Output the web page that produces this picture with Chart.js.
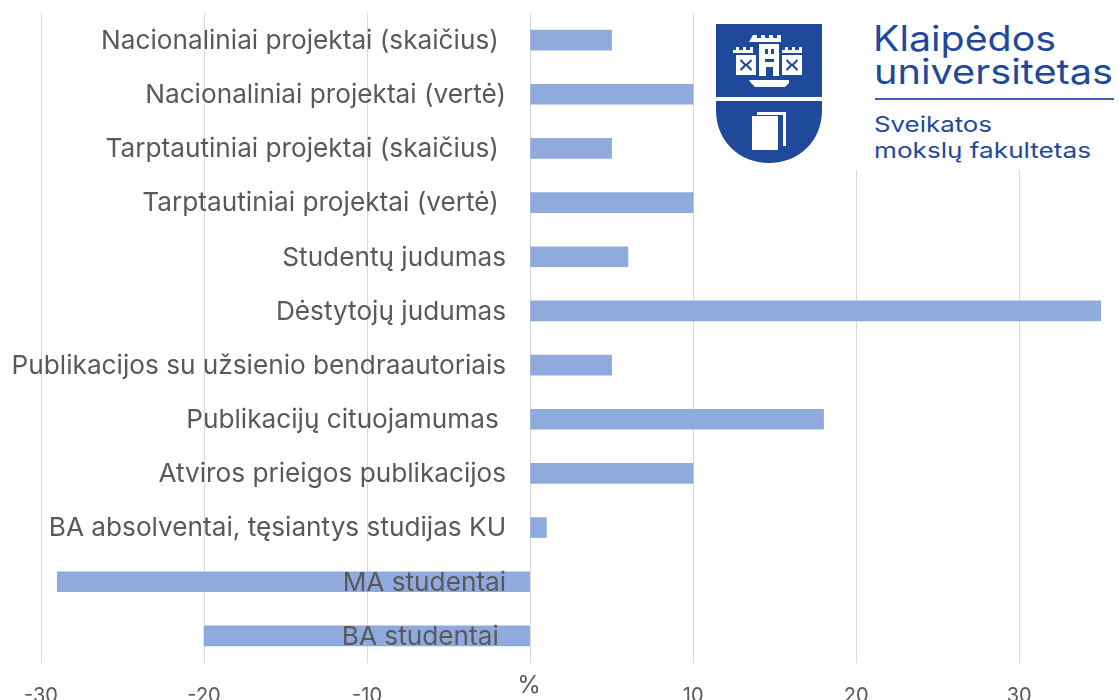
<!DOCTYPE html>
<html><head><meta charset="utf-8">
<script src="https://cdn.jsdelivr.net/npm/chart.js@4"></script>
<style>
html,body{margin:0;padding:0;background:#fff;overflow:hidden}
#wrap{position:relative;width:1119px;height:700px}
#logo{position:absolute;left:700px;top:0;width:419px;height:170px;background:#fff}
</style></head><body>
<div id="wrap">
<canvas id="c" width="1119" height="700"></canvas>
<svg id="logo" viewBox="700 0 419 170" xmlns="http://www.w3.org/2000/svg">
  <path d="M716 24H822V97H716Z" fill="#1f4a9c"/>
  <path d="M716 101H822V110C822 142 798 163 769 163C740 163 716 142 716 110Z" fill="#1f4a9c"/>
  <g fill="#fff">
    <path d="M753 35h4v3h4v-3h4v3h4v-3h4v3h4v-3h4v7h-32z"/>
    <path d="M759 44h20v32h-20z"/>
    <path d="M736 47h3v3h4v-3h3v3h4v-3h3v6h-20v-3h3z"/>
    <path d="M785 47h3v3h4v-3h3v3h4v-3h3v6h-20v-3h3z"/>
    <path d="M736 55h20v20h-20z"/>
    <path d="M782 55h20v20h-20z"/>
    <path d="M749 80h40v3l-4 4h-30l-4-4z"/>
    <path d="M752 116h26v34h-26z"/>
    <path d="M757 112h29v34h-3v-31h-26z"/>
  </g>
  <g fill="#1f4a9c">
    <path d="M765 49h3v5h-3zM771 49h3v5h-3zM765 59h9v3h-9zM766 67h7v9h-7z"/>
    <path d="M741 59l5 5 5-5 1 2-4 4 4 4-1 2-5-5-5 5-1-2 4-4-4-4z"/>
    <path d="M787 59l5 5 5-5 1 2-4 4 4 4-1 2-5-5-5 5-1-2 4-4-4-4z"/>
  </g>
  <g fill="#1f4a9c" font-family="Inter, sans-serif">
    <text x="873" y="51" font-size="35" textLength="183" lengthAdjust="spacingAndGlyphs">Klaipėdos</text>
    <text x="874" y="84" font-size="35" textLength="239" lengthAdjust="spacingAndGlyphs">universitetas</text>
    <text x="874" y="132" font-size="21.5" textLength="118" lengthAdjust="spacingAndGlyphs">Sveikatos</text>
    <text x="874" y="158" font-size="21.5" textLength="217" lengthAdjust="spacingAndGlyphs">mokslų fakultetas</text>
  </g>
  <rect x="875" y="98" width="239" height="2" fill="#3a62ad"/>
</svg>
</div>
<script>
const categories = [
  "Nacionaliniai projektai (skaičius) ",
  "Nacionaliniai projektai (vertė)",
  "Tarptautiniai projektai (skaičius) ",
  "Tarptautiniai projektai (vertė) ",
  "Studentų judumas",
  "Dėstytojų judumas",
  "Publikacijos su užsienio bendraautoriais",
  "Publikacijų cituojamumas ",
  "Atviros prieigos publikacijos",
  "BA absolventai, tęsiantys studijas KU",
  "MA studentai",
  "BA studentai "
];
const values = [5, 10, 5, 10, 6, 35, 5, 18, 10, 1, -29, -20];
const axisMin = -30, axisMax = 36, axisStep = 10;
const unitLabel = "%";
const textColor = "#595959";
const fontFamily = "Inter, sans-serif";

const unitPlugin = {
  id: "unitLabel",
  afterDraw(chart) {
    const { ctx, scales: { x } } = chart;
    ctx.save();
    ctx.fillStyle = textColor;
    ctx.font = "24px " + fontFamily;
    ctx.textAlign = "center";
    ctx.textBaseline = "middle";
    ctx.fillText(unitLabel, x.getPixelForValue(0) - 1, 686);
    ctx.restore();
  }
};

new Chart(document.getElementById("c"), {
  type: "bar",
  data: { labels: categories, datasets: [{ data: values, backgroundColor: "#8faadc", barThickness: 20 }] },
  plugins: [unitPlugin],
  options: {
    indexAxis: "y",
    responsive: false,
    animation: false,
    layout: { padding: { left: 41, right: 2, top: 13, bottom: 0 } },
    plugins: { legend: { display: false }, tooltip: { enabled: false } },
    scales: {
      x: {
        min: axisMin, max: axisMax,
        afterFit(s) { s.height = 37; },
        grid: { color: "#d9d9d9", lineWidth: 1, drawTicks: false },
        border: { display: false },
        ticks: {
          stepSize: axisStep, includeBounds: false, autoSkip: false, maxRotation: 0, padding: 21,
          color: textColor, font: { family: fontFamily, size: 20 },
          callback: v => v === 0 ? "" : String(v)
        }
      },
      y: {
        position: { x: -1.47 },
        afterFit(s) { s.paddingTop = 0; s.paddingBottom = 0; },
        grid: { display: false },
        border: { display: false },
        ticks: {
          z: 2, autoSkip: false, color: textColor, labelOffset: 1,
          font: { family: fontFamily, size: 26.2 }
        }
      }
    }
  }
});
</script>
</body></html>
